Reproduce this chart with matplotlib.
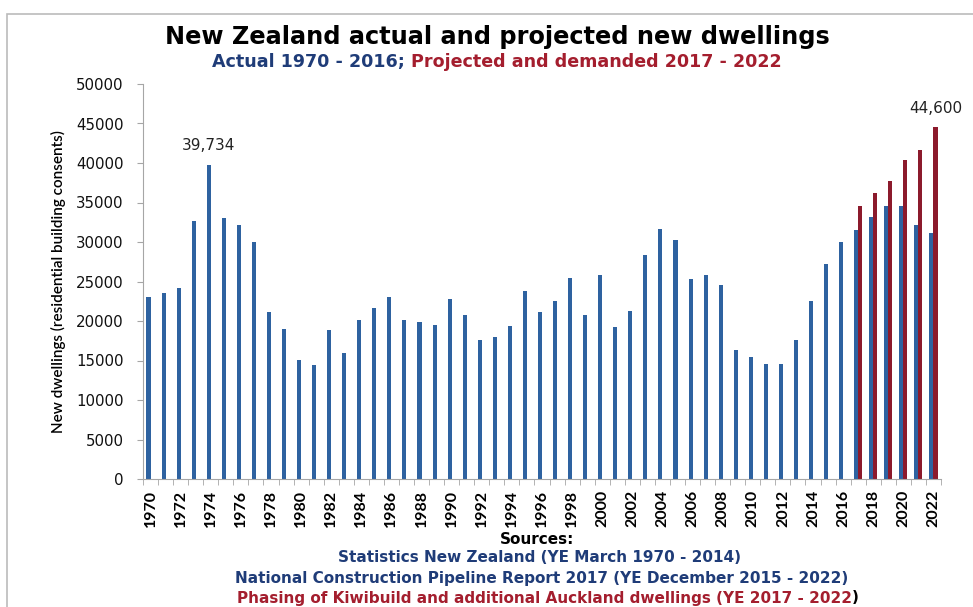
import numpy as np
import matplotlib
matplotlib.use("Agg")
import matplotlib.pyplot as plt
from matplotlib.offsetbox import TextArea, HPacker, AnnotationBbox
from matplotlib.patches import Rectangle

W, H = 973, 607

years = list(range(1970, 2023))
actual = [
    23000, 23500, 24200, 32700, 39734, 33000, 32100, 30000, 21100, 19000,
    15100, 14400, 18900, 16000, 20100, 21700, 23100, 20100, 19900, 19500,
    22800, 20700, 17600, 18000, 19400, 23800, 21200, 22500, 25500, 20700,
    25800, 19300, 21300, 28300, 31700, 30200, 25300, 25800, 24600, 16300,
    15500, 14600, 14600, 17600, 22500, 27200, 30000, 31500, 33200, 34600,
    34600, 32100, 31100,
]
proj_years = [2017, 2018, 2019, 2020, 2021, 2022]
projected = [34500, 36200, 37700, 40400, 41600, 44600]

y_ticks = list(range(0, 50001, 5000))
peak_label = "39,734"
proj_label = "44,600"

BLUE = "#2E62A0"
RED = "#8C1A2C"
TXT_BLUE = "#1F3C78"
TXT_RED = "#A41E2E"
GREY = "#A6A6A6"
WIDE = "DejaVu Sans"


def fx(px):
    return px / W


def fy(py):
    return 1 - py / H


fig = plt.figure(figsize=(W / 100, H / 100), dpi=100)
ax = fig.add_axes([fx(143), fy(479), fx(941) - fx(143), fy(84) - fy(479)])

x = np.arange(len(years))
bw = 0.27
ax.bar(x - bw / 2, actual, width=bw, color=BLUE, zorder=2)
px_idx = np.array([years.index(y) for y in proj_years])
ax.bar(px_idx + bw / 2, projected, width=bw, color=RED, zorder=2)

ax.set_xlim(-0.5, len(years) - 0.5)
ax.set_ylim(0, 50000)

# y axis
ax.set_yticks(y_ticks)
ax.set_yticklabels([str(v) for v in y_ticks], fontsize=10.8, family=WIDE,
                   color="#111111")
ax.tick_params(axis="y", direction="out", length=4, color=GREY, pad=10)

# x axis: labels every other year, tick marks at category boundaries
ax.set_xticks(x[::2])
ax.set_xticklabels([str(y) for y in years[::2]], rotation=90,
                   fontsize=11.5, family="Lato", fontweight="bold")
ax.tick_params(axis="x", which="major", length=0, pad=8)
ax.set_xticks(np.arange(len(years) + 1) - 0.5, minor=True)
ax.tick_params(axis="x", which="minor", direction="out", length=4, color=GREY)

for s in ["top", "right"]:
    ax.spines[s].set_visible(False)
for s in ["left", "bottom"]:
    ax.spines[s].set_color(GREY)
    ax.spines[s].set_linewidth(0.8)

ax.set_ylabel("New dwellings (residential building consents)", fontsize=11,
              family="Lato", fontweight="semibold", labelpad=7)

# value labels
i74 = years.index(1974)
ax.annotate(peak_label, (i74 - bw / 2, actual[i74]), xytext=(0, 9),
            textcoords="offset points", ha="center", va="bottom",
            fontsize=11, family=WIDE, color="#222222")
ax.annotate(proj_label, (px_idx[-1] + bw / 2, projected[-1]), xytext=(0, 8),
            textcoords="offset points", ha="center", va="bottom",
            fontsize=11, family=WIDE, color="#222222")

# titles
fig.text(fx(497), fy(37), "New Zealand actual and projected new dwellings",
         ha="center", va="center", fontsize=17.3, family=WIDE,
         fontweight="bold", color="black")


def coloured_line(parts, xc, yc, size):
    boxes = [TextArea(t, textprops=dict(color=c, fontsize=size, family=WIDE,
                                        fontweight="bold"))
             for t, c in parts]
    pack = HPacker(children=boxes, pad=0, sep=0, align="baseline")
    ab = AnnotationBbox(pack, (fx(xc), fy(yc)), xycoords="figure fraction",
                        frameon=False, box_alignment=(0.5, 0.5))
    fig.add_artist(ab)


coloured_line([("Actual 1970 - 2016; ", TXT_BLUE),
               ("Projected and demanded 2017 - 2022", TXT_RED)], 497, 62, 12.6)

src_kw = dict(ha="center", va="center", fontsize=11, family=WIDE,
              fontweight="bold")
fig.text(fx(537), fy(539), "Sources:", color="black", **src_kw)
fig.text(fx(540), fy(558), "Statistics New Zealand (YE March 1970 - 2014)",
         color=TXT_BLUE, **src_kw)
fig.text(fx(542), fy(578),
         "National Construction Pipeline Report 2017 (YE December 2015 - 2022)",
         color=TXT_BLUE, **src_kw)
coloured_line([("Phasing of Kiwibuild and additional Auckland dwellings (YE 2017 - 2022", TXT_RED),
               (")", "black")], 548, 598, 11)

# outer frame of the pasted chart
fig.add_artist(Rectangle((fx(7), fy(650)), fx(1100), fy(14) - fy(650),
                         transform=fig.transFigure, fill=False,
                         edgecolor="#BBBBBB", linewidth=1.2))

fig.savefig("out.png", dpi=100)
